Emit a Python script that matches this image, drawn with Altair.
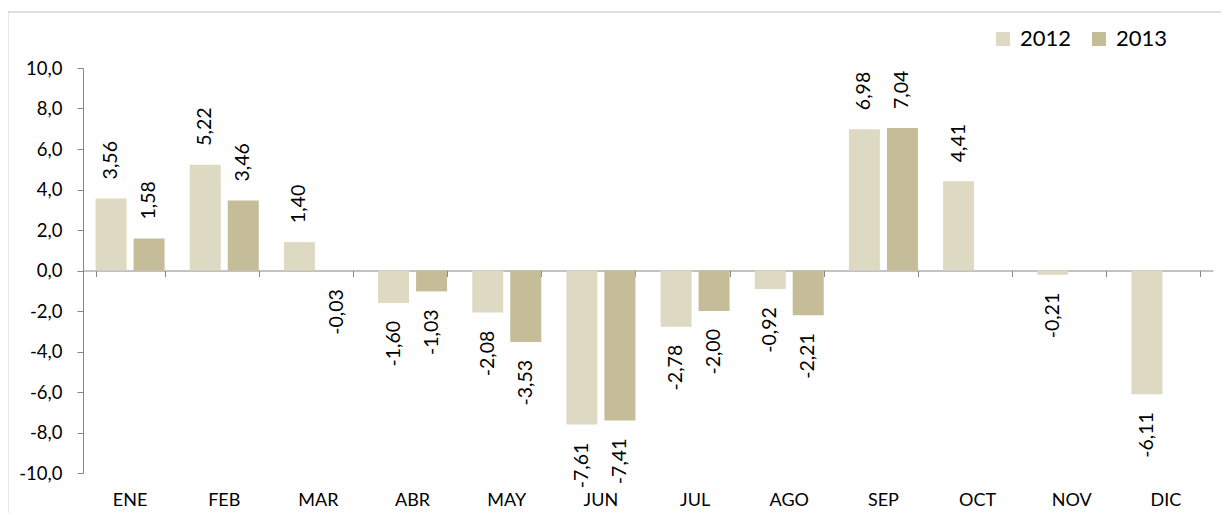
import altair as alt
import pandas as pd

months = ["ENE", "FEB", "MAR", "ABR", "MAY", "JUN", "JUL", "AGO", "SEP", "OCT", "NOV", "DIC"]
years = ["2012", "2013"]
v2012 = [3.56, 5.22, 1.40, -1.60, -2.08, -7.61, -2.78, -0.92, 6.98, 4.41, -0.21, -6.11]
v2013 = [1.58, 3.46, -0.03, -1.03, -3.53, -7.41, -2.00, -2.21, 7.04, None, None, None]
colors = ["#ddd9c3", "#c4bd97"]
y_ticks = [-10, -8, -6, -4, -2, 0, 2, 4, 6, 8, 10]

rows = []
for m, a, b in zip(months, v2012, v2013):
    rows.append({"month": m, "year": "2012", "value": a})
    if b is not None:
        rows.append({"month": m, "year": "2013", "value": b})
df = pd.DataFrame(rows)

FONT = "Lato"
GRAY = "#868686"
W, H = 1130, 405

xscale = alt.Scale(domain=months, paddingInner=0.267, paddingOuter=0.1335)
xoff = alt.XOffset("year:N", scale=alt.Scale(domain=years, paddingInner=0.184, paddingOuter=0))
yenc = alt.Y(
    "value:Q",
    scale=alt.Scale(domain=[-10, 10], nice=False, zero=False),
    axis=alt.Axis(
        values=y_ticks, grid=False, title=None, domainColor=GRAY, tickColor=GRAY,
        tickSize=6, labelPadding=15, labelFontSize=18.5, labelFont=FONT, labelColor="#000",
        labelExpr="(datum.value < 0 ? '-' : '') + replace(format(abs(datum.value), '.1f'), '.', ',')",
    ),
)

x_ticks = alt.X(
    "month:N", sort=months, scale=xscale,
    axis=alt.Axis(orient="bottom", offset=-H / 2, labels=False, domain=True, ticks=True,
                  tickBand="extent", tickSize=6, domainColor=GRAY, tickColor=GRAY, title=None),
)
x_labels = alt.X(
    "month:N", sort=months, scale=xscale,
    axis=alt.Axis(orient="bottom", domain=False, ticks=False, labelPadding=18, labelAngle=0,
                  labelFontSize=18, labelFont=FONT, labelColor="#000", title=None),
)
x_none = alt.X("month:N", sort=months, scale=xscale, axis=None)

base = alt.Chart(df)

bars = base.mark_bar().encode(
    x=x_ticks,
    xOffset=xoff,
    y=yenc,
    color=alt.Color(
        "year:N",
        scale=alt.Scale(domain=years, range=colors),
        legend=alt.Legend(title=None, orient="none", legendX=909, legendY=-40,
                          direction="horizontal", symbolType="square", symbolSize=196,
                          symbolStrokeWidth=0, labelFontSize=22, labelFont=FONT,
                          labelColor="#000", columnPadding=16, labelOffset=6),
    ),
)

label_expr = "(datum.value < 0 ? '-' : '') + replace(format(abs(datum.value), '.2f'), '.', ',')"

pos_text = base.transform_filter("datum.value >= 0").transform_calculate(
    lbl=label_expr
).mark_text(angle=270, align="left", baseline="middle", dx=19, fontSize=19.5, font=FONT, color="#000").encode(
    x=x_labels, xOffset=xoff, y=yenc, text="lbl:N"
)

neg_text = base.transform_filter("datum.value < 0").transform_calculate(
    lbl=label_expr
).mark_text(angle=270, align="right", baseline="middle", dx=-18, fontSize=19.5, font=FONT, color="#000").encode(
    x=x_none, xOffset=xoff, y=yenc, text="lbl:N"
)

frame_df = pd.DataFrame({"k": [0]})
frame_top = alt.Chart(frame_df).mark_rule(color="#bfbfbf", strokeWidth=1).encode(
    x=alt.value(-75), x2=alt.value(W + 40), y=alt.value(-56)
)
frame_left = alt.Chart(frame_df).mark_rule(color="#d0d0d0", strokeWidth=1).encode(
    x=alt.value(-75), y=alt.value(-56), y2=alt.value(H + 60)
)

chart = alt.layer(bars, pos_text, neg_text, frame_top, frame_left).resolve_axis(
    x="independent"
).properties(
    width=W, height=H,
    autosize=alt.AutoSizeParams(type="none"),
    padding={"left": 75, "top": 60, "right": 8, "bottom": 40},
).configure_view(stroke=None)

chart.save("out.html", embed_options={"renderer": "svg", "actions": False})
